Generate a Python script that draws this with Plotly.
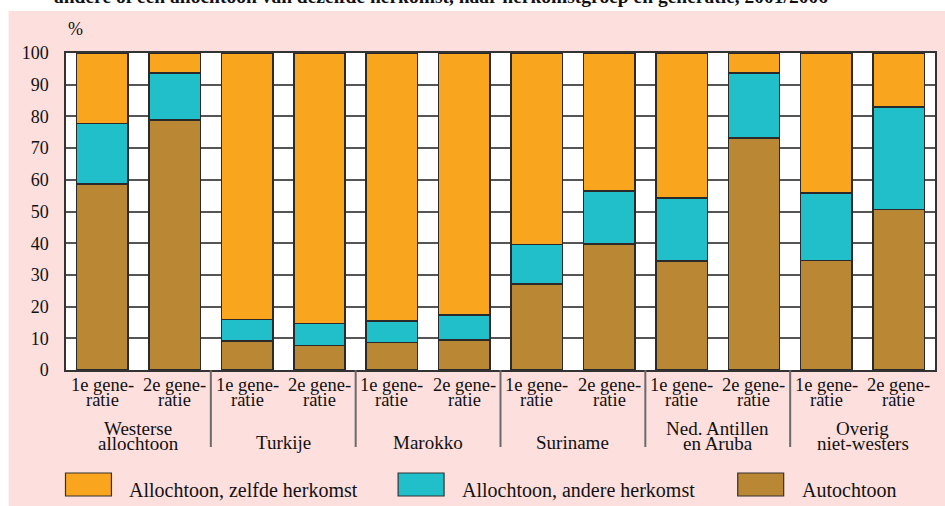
import plotly.graph_objects as go

# ---------------- data ----------------
groups = [["Westerse", "allochtoon"], ["Turkije"], ["Marokko"], ["Suriname"],
          ["Ned. Antillen", "en Aruba"], ["Overig", "niet-westers"]]
generations = [["1e gene-", "ratie"], ["2e gene-", "ratie"]]
series_names = ["Allochtoon, zelfde herkomst", "Allochtoon, andere herkomst", "Autochtoon"]
autochtoon = [58.6, 78.8, 9.1, 7.8, 8.6, 9.5, 27.2, 39.8, 34.4, 73.2, 34.5, 50.7]
andere = [19.2, 14.9, 6.9, 6.9, 6.9, 7.8, 12.4, 16.6, 19.9, 20.5, 21.4, 32.2]
zelfde = [22.2, 6.3, 84.0, 85.3, 84.5, 82.7, 60.4, 43.6, 45.7, 6.3, 44.1, 17.1]
title_text = ("andere of een allochtoon van dezelfde herkomst, naar herkomstgroep "
              "en generatie, 2001/2006")
y_unit = "%"

# ---------------- styling ----------------
W, H = 945, 506
ML, MR, MT, MB = 65.5, 9.5, 53, 136
PW, PH = W - ML - MR, H - MT - MB
FONT = "Liberation Serif, Times New Roman, serif"
C_ZELFDE = "#F9A61E"
C_ANDERE = "#20BFC9"
C_AUTO = "#BA8834"
PINK = "#FDDFDD"
EDGE = "#2a2a2a"
TXT = "#111111"


def px2x(px):
    return (px - ML) / PW


def py2y(py):
    return (H - MB - py) / PH


n = len(autochtoon)
xs = list(range(n))

fig = go.Figure()
for name, vals, col in [(series_names[2], autochtoon, C_AUTO),
                        (series_names[1], andere, C_ANDERE),
                        (series_names[0], zelfde, C_ZELFDE)]:
    fig.add_trace(go.Bar(x=xs, y=vals, name=name, width=0.71,
                         marker=dict(color=col, line=dict(color=EDGE, width=1.5)),
                         showlegend=False))

shapes = []
annotations = []

# white strips outside the pink panel (top and left)
shapes.append(dict(type="rect", xref="paper", yref="paper", layer="below",
                   x0=px2x(-5), x1=px2x(W + 5), y0=py2y(11), y1=py2y(-5),
                   fillcolor="white", line=dict(width=0)))
shapes.append(dict(type="rect", xref="paper", yref="paper", layer="below",
                   x0=px2x(-5), x1=px2x(8), y0=py2y(H + 5), y1=py2y(-5),
                   fillcolor="white", line=dict(width=0)))

# group separators below the axis
for k in range(1, len(groups)):
    xb = 2 * k - 0.5
    shapes.append(dict(type="line", xref="x", yref="paper", x0=xb, x1=xb,
                       y0=0, y1=py2y(447), line=dict(color="#6a6a6a", width=2)))


def ann(x, y, text, xref="x", xanchor="center", yanchor="middle", size=18):
    return dict(x=x, y=y, xref=xref, yref="paper", text=text, showarrow=False,
                font=dict(size=size, family=FONT, color=TXT),
                xanchor=xanchor, yanchor=yanchor)


# generation tick labels
for i in xs:
    l1, l2 = generations[i % 2]
    annotations.append(ann(i, py2y(385), l1, size=18.5))
    annotations.append(ann(i, py2y(400), l2, size=18.5))

# group labels
for g, lines in enumerate(groups):
    xc = 2 * g + 0.5
    ys = [443] if len(lines) == 1 else [428, 444]
    for line, yy in zip(lines, ys):
        annotations.append(ann(xc, py2y(yy), line, size=19))

# unit label
annotations.append(ann(px2x(66), py2y(29), y_unit, xref="paper", xanchor="left"))

# cut-off title
annotations.append(ann(px2x(51), py2y(9), "<b>" + title_text + "</b>",
                       xref="paper", xanchor="left", yanchor="bottom", size=19.5))

# manual legend
legend_items = [(series_names[0], C_ZELFDE, 65, 127),
                (series_names[1], C_ANDERE, 398, 460),
                (series_names[2], C_AUTO, 738, 800)]
for name, col, sx, tx in legend_items:
    shapes.append(dict(type="rect", xref="paper", yref="paper",
                       x0=px2x(sx), x1=px2x(sx + 46), y0=py2y(496), y1=py2y(473),
                       fillcolor=col, line=dict(color="#333", width=1.2)))
    annotations.append(ann(px2x(tx), py2y(490), name, xref="paper", xanchor="left",
                           size=20))

fig.update_layout(
    width=W, height=H,
    margin=dict(l=ML, r=MR, t=MT, b=MB, pad=0),
    barmode="stack",
    paper_bgcolor=PINK,
    plot_bgcolor="white",
    font=dict(family=FONT, size=18, color=TXT),
    shapes=shapes,
    annotations=annotations,
    showlegend=False,
    xaxis=dict(range=[-0.5, n - 0.5], showticklabels=False, showgrid=False,
               zeroline=False, showline=True, mirror=True, linecolor="#333",
               linewidth=1.5, ticks="", fixedrange=True),
    yaxis=dict(range=[0, 100], dtick=10, showgrid=True, gridcolor="#555",
               gridwidth=1.5, zeroline=False, showline=True, mirror=True,
               linecolor="#333", linewidth=1.5, ticks="", ticklabelstandoff=12,
               tickfont=dict(size=18, family=FONT, color=TXT)),
)

fig.write_html(
    "out.html",
    config={"displayModeBar": False},
    post_script="document.documentElement.style.margin='0';"
                "document.body.style.margin='0';"
                "document.body.style.overflow='hidden';",
)
